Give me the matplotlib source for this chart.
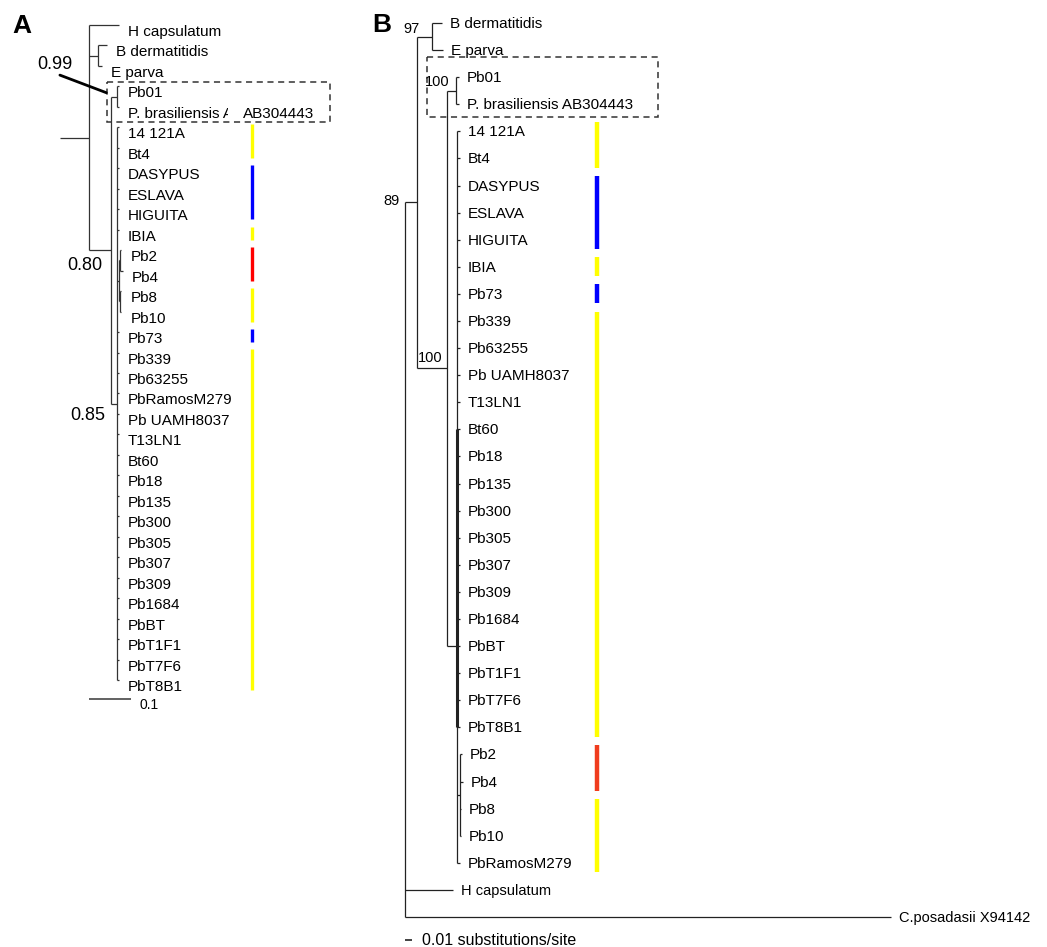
import matplotlib
matplotlib.use("Agg")
import matplotlib.pyplot as plt
from matplotlib.patches import Rectangle
from matplotlib.transforms import Bbox

plt.rcParams['font.family'] = ['Liberation Sans', 'DejaVu Sans']

# ---- data -------------------------------------------------------------
# trees as nested tuples: (leaf, branch length) or (node, branch length, children)
tip_a = 0.005
tree_a = ("root", 0.069, [
    ("H capsulatum", 0.071),
    ("blasto", 0.021, [("B dermatitidis", 0.021), ("E parva", 0.011)]),
    ("pb", 0.052, [
        ("pb01", 0.014, [("Pb01", tip_a), ("P. brasiliensis AB304443", tip_a)]),
        ("core", 0.014, [
            ("14 121A", tip_a), ("Bt4", tip_a), ("DASYPUS", tip_a), ("ESLAVA", tip_a),
            ("HIGUITA", tip_a), ("IBIA", tip_a),
            ("pb2_10", 0.006, [
                ("pb2_4", 0.001, [("Pb2", 0.004), ("Pb4", 0.008)]),
                ("pb8_10", 0.001, [("Pb8", 0.004), ("Pb10", 0.004)]),
            ]),
            ("Pb73", tip_a), ("Pb339", tip_a), ("Pb63255", tip_a), ("PbRamosM279", tip_a),
            ("Pb UAMH8037", tip_a), ("T13LN1", tip_a), ("Bt60", tip_a), ("Pb18", tip_a),
            ("Pb135", tip_a), ("Pb300", tip_a), ("Pb305", tip_a), ("Pb307", tip_a),
            ("Pb309", tip_a), ("Pb1684", tip_a), ("PbBT", tip_a), ("PbT1F1", tip_a),
            ("PbT7F6", tip_a), ("PbT8B1", tip_a),
        ]),
    ]),
])
support_a = {"pb01": "0.99", "pb": "0.80", "core": "0.85"}
groups_a = [("14 121A", "Bt4", "yellow"), ("DASYPUS", "HIGUITA", "blue"),
            ("IBIA", "IBIA", "yellow"), ("Pb2", "Pb4", "red"),
            ("Pb8", "Pb10", "yellow"), ("Pb73", "Pb73", "blue"),
            ("Pb339", "PbT8B1", "yellow")]
scale_a = 0.1

tip_b = 0.004
tree_b = ("root", 0.0, [
    ("ingroup", 0.0176, [
        ("blasto", 0.022, [("B dermatitidis", 0.0147), ("E parva", 0.017)]),
        ("pb", 0.044, [
            ("pb01", 0.0132, [("Pb01", tip_b), ("P. brasiliensis AB304443", tip_b)]),
            ("core", 0.0147, [
                ("14 121A", tip_b), ("Bt4", tip_b), ("DASYPUS", tip_b), ("ESLAVA", tip_b),
                ("HIGUITA", tip_b), ("IBIA", tip_b), ("Pb73", tip_b), ("Pb339", tip_b),
                ("Pb63255", tip_b), ("Pb UAMH8037", tip_b), ("T13LN1", tip_b),
                ("bt60", 0.0, [
                    ("Bt60", tip_b), ("Pb18", tip_b), ("Pb135", tip_b), ("Pb300", tip_b),
                    ("Pb305", tip_b), ("Pb307", tip_b), ("Pb309", tip_b), ("Pb1684", tip_b),
                    ("PbBT", tip_b), ("PbT1F1", tip_b), ("PbT7F6", tip_b), ("PbT8B1", tip_b),
                ]),
                ("pb2_10", 0.004, [("Pb2", 0.003), ("Pb4", 0.005), ("Pb8", 0.002), ("Pb10", 0.002)]),
                ("PbRamosM279", tip_b),
            ]),
        ]),
    ]),
    ("H capsulatum", 0.0706),
    ("C.posadasii X94142", 0.715),
])
support_b = {"blasto": "97", "ingroup": "89", "pb": "100", "pb01": "100"}
groups_b = [("14 121A", "Bt4", "yellow"), ("DASYPUS", "HIGUITA", "blue"),
            ("IBIA", "IBIA", "yellow"), ("Pb73", "Pb73", "blue"),
            ("Pb339", "PbT8B1", "yellow"), ("Pb2", "Pb4", "red"),
            ("Pb8", "PbRamosM279", "yellow")]
scale_b = 0.01

# ---- figure ------------------------------------------------------------
W, H = 1047, 947
fig = plt.figure(figsize=(W / 100, H / 100), dpi=100)


def tree_axes(x0, px_unit, y0, px_leaf):
    ax = fig.add_axes([0, 0, 1, 1])
    ax.set_xlim(-x0 / px_unit, (W - x0) / px_unit)
    ax.set_ylim((H - y0) / px_leaf, -y0 / px_leaf)
    ax.set_facecolor('none')
    ax.axis('off')
    return ax


def draw_tree(ax, tree, lw=0.9, color='#222222', thick=(), anchor=None):
    anchor = anchor or {}
    pos = {}
    count = [0]

    def walk(node, px):
        if len(node) == 2:
            name, bl = node
            x, y = px + bl, count[0]
            count[0] += 1
        else:
            name, bl, kids = node
            x = px + bl
            ys = [walk(k, x) for k in kids]
            y = pos[anchor[name]][1] if name in anchor else (min(ys) + max(ys)) / 2
            ax.vlines(x, min(ys), max(ys), color=color,
                      lw=2.2 if name in thick else lw)
        if bl > 0:
            ax.hlines(y, px, x, color=color, lw=lw)
        pos[name] = (x, y)
        return y

    walk(tree, -tree[1])
    return pos


def leaf_names(tree):
    if len(tree) == 2:
        return [tree[0]]
    return [n for k in tree[2] for n in leaf_names(k)]


def color_bars(ax, pos, groups, x, lw, lo, hi, palette):
    for first, last, c in groups:
        ax.vlines(x, pos[first][1] - lo, pos[last][1] + hi,
                  color=palette[c], lw=lw)


# ---- panel A -----------------------------------------------------------
axA = tree_axes(89, 420, 25, 20.47)
posA = draw_tree(axA, tree_a, color='#333333')
pbras = "P. brasiliensis AB304443"
for name in leaf_names(tree_a):
    shown = "P. brasiliensis A" if name == pbras else name
    t = axA.annotate(shown, posA[name], xytext=(9, -11), textcoords='offset pixels',
                     fontsize=11, va='baseline', ha='left')
    if name == pbras:
        # the accession overprints this label in the original figure
        t.set_clip_on(True)
        t.set_clip_box(Bbox([[0, 0], [228, H]]))
axA.annotate("AB304443", posA[pbras], xytext=(124, -11),
             textcoords='offset pixels', fontsize=11, va='baseline', ha='left')

axA.annotate(support_a["pb01"], posA["pb01"], xytext=(-62, 32),
             textcoords='offset pixels', fontsize=13, ha='center', va='center',
             arrowprops=dict(arrowstyle='-', lw=2, color='black', patchA=None,
                             shrinkA=4, shrinkB=8, relpos=(0.5, 0)))
for key, (dx, dy) in {"pb": (-8, -20), "core": (-11, -16)}.items():
    axA.annotate(support_a[key], posA[key], xytext=(dx, dy),
                 textcoords='offset pixels', fontsize=13, ha='right', va='baseline')

color_bars(axA, posA, groups_a, 0.388, 2.4, 0.15, 0.5,
           {"yellow": "#ffff00", "blue": "#0000ff", "red": "#ff0000"})

ya = posA["Pb01"][1]
yb = posA[pbras][1]
axA.add_patch(Rectangle((0.043, ya - 0.22), 0.531, yb - ya + 0.96, fill=False,
                        ec='#333333', lw=1.1, ls=(0, (4, 3))))

ys = posA["PbT8B1"][1] + 0.93
axA.hlines(ys, 0, scale_a, color='#555555', lw=1.3)
axA.annotate("0.1", (scale_a, ys), xytext=(9, -10), textcoords='offset pixels',
             fontsize=10, va='baseline')

# ---- panel B -----------------------------------------------------------
axB = tree_axes(405, 680, 23, 27.09)
posB = draw_tree(axB, tree_b, color='#222222', thick=("bt60",),
                 anchor={"core": "PbBT"})
small_b = {"H capsulatum": 10.5, "C.posadasii X94142": 10.5}
for name in leaf_names(tree_b):
    axB.annotate(name, posB[name], xytext=(8, -5), textcoords='offset pixels',
                 fontsize=small_b.get(name, 11), va='baseline', ha='left')

offs_b = {"blasto": (-12, 3.5), "ingroup": (-17, -2.5), "pb": (-4, 6), "pb01": (-6, 5)}
for key, (dx, dy) in offs_b.items():
    axB.annotate(support_b[key], posB[key], xytext=(dx, dy),
                 textcoords='offset pixels', fontsize=10.5, ha='right', va='baseline')

color_bars(axB, posB, groups_b, 0.282, 3.2, 0.35, 0.35,
           {"yellow": "#ffff00", "blue": "#0000ff", "red": "#f03c1e"})

ya = posB["Pb01"][1]
yb = posB[pbras][1]
axB.add_patch(Rectangle((0.0324, ya - 0.74), 0.34, yb - ya + 1.21, fill=False,
                        ec='#333333', lw=1.1, ls=(0, (4, 3))))

ys = posB["C.posadasii X94142"][1] + 0.85
axB.hlines(ys, 0, scale_b, color='#222222', lw=1.2)
axB.annotate("0.01 substitutions/site", (scale_b, ys), xytext=(10, -5),
             textcoords='offset pixels', fontsize=11.5, va='baseline')

# panel letters
fig.text(12 / W, 1 - 33 / H, "A", fontsize=19, fontweight='bold', va='baseline')
fig.text(372 / W, 1 - 32 / H, "B", fontsize=19, fontweight='bold', va='baseline')

fig.savefig("out.png", dpi=100)
